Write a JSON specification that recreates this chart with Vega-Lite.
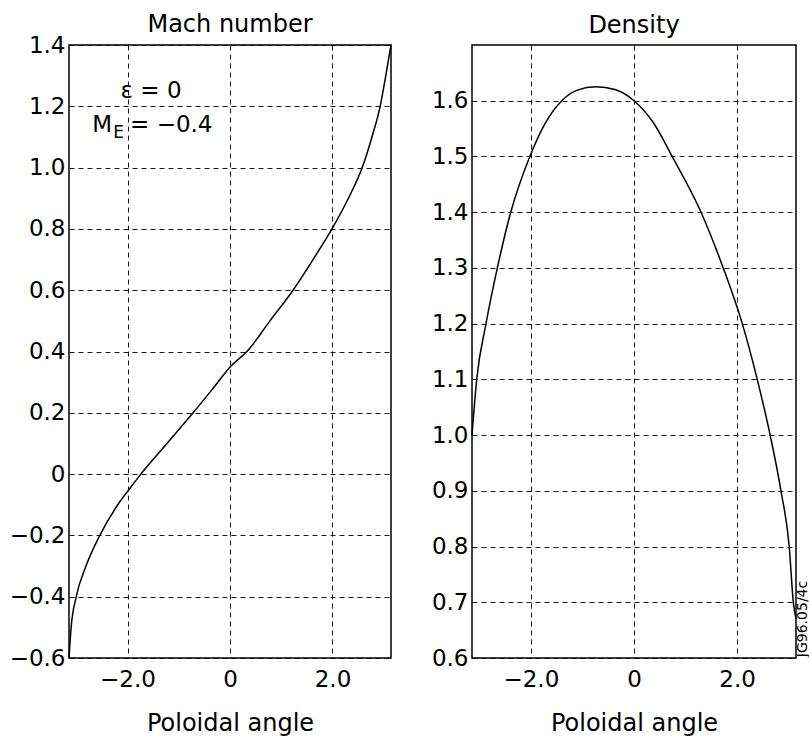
{
  "$schema": "https://vega.github.io/schema/vega-lite/v6.json",
  "padding": {"left": 8, "top": 12, "right": 0, "bottom": 5},
  "background": "white",
  "config": {
    "font": "DejaVu Sans",
    "view": {"stroke": "black", "strokeWidth": 1.5},
    "axis": {
      "grid": true, "gridColor": "black", "gridDash": [5, 4], "gridWidth": 1, "gridOpacity": 0.9,
      "domain": false, "ticks": false,
      "labelFontSize": 23, "labelColor": "black",
      "titleFontSize": 24, "titleFontWeight": "normal", "titleColor": "black"
    },
    "axisX": {"labelPadding": 10, "titlePadding": 20},
    "axisY": {"labelPadding": 4},
    "title": {"fontSize": 24, "fontWeight": "normal", "color": "black"},
    "concat": {"spacing": 35}
  },
  "datasets": {
    "mach": [
      {"angle": -3.1416, "mach": -0.6},
      {"angle": -3.10, "mach": -0.5},
      {"angle": -3.00, "mach": -0.4},
      {"angle": -2.81, "mach": -0.3},
      {"angle": -2.54, "mach": -0.2},
      {"angle": -2.19, "mach": -0.1},
      {"angle": -1.97, "mach": -0.05},
      {"angle": -1.74, "mach": 0.0},
      {"angle": -1.23, "mach": 0.1},
      {"angle": -0.72, "mach": 0.2},
      {"angle": -0.33, "mach": 0.28},
      {"angle": 0.02, "mach": 0.353},
      {"angle": 0.33, "mach": 0.4},
      {"angle": 0.78, "mach": 0.5},
      {"angle": 1.23, "mach": 0.6},
      {"angle": 1.62, "mach": 0.7},
      {"angle": 1.99, "mach": 0.8},
      {"angle": 2.31, "mach": 0.9},
      {"angle": 2.58, "mach": 1.0},
      {"angle": 2.77, "mach": 1.1},
      {"angle": 2.93, "mach": 1.2},
      {"angle": 3.04, "mach": 1.3},
      {"angle": 3.1416, "mach": 1.4}
    ],
    "density": [
      {"angle": -3.1416, "density": 1.0},
      {"angle": -3.05, "density": 1.1},
      {"angle": -2.87, "density": 1.2},
      {"angle": -2.65, "density": 1.3},
      {"angle": -2.39, "density": 1.4},
      {"angle": -2.02, "density": 1.5},
      {"angle": -1.72, "density": 1.56},
      {"angle": -1.40, "density": 1.6},
      {"angle": -1.10, "density": 1.619},
      {"angle": -0.74, "density": 1.625},
      {"angle": -0.37, "density": 1.62},
      {"angle": 0.0, "density": 1.6},
      {"angle": 0.38, "density": 1.56},
      {"angle": 0.74, "density": 1.5},
      {"angle": 1.30, "density": 1.4},
      {"angle": 1.73, "density": 1.3},
      {"angle": 2.10, "density": 1.2},
      {"angle": 2.39, "density": 1.1},
      {"angle": 2.64, "density": 1.0},
      {"angle": 2.85, "density": 0.9},
      {"angle": 3.01, "density": 0.8},
      {"angle": 3.09, "density": 0.7},
      {"angle": 3.1416, "density": 0.67}
    ]
  },
  "hconcat": [
    {
      "title": {"text": "Mach number", "offset": -3},
      "width": 322,
      "height": 613,
      "encoding": {
        "x": {
          "field": "angle", "type": "quantitative",
          "scale": {"domain": [-3.1416, 3.1416], "nice": false, "zero": false},
          "axis": {"values": [-2, 0, 2], "labelExpr": "datum.value == 0 ? '0' : format(datum.value, '.1f')", "title": "Poloidal angle"}
        },
        "y": {
          "field": "mach", "type": "quantitative",
          "scale": {"domain": [-0.6, 1.4], "nice": false, "zero": false},
          "axis": {"values": [-0.6, -0.4, -0.2, 0, 0.2, 0.4, 0.6, 0.8, 1.0, 1.2, 1.4], "labelExpr": "datum.value == 0 ? '0' : format(datum.value, '.1f')", "title": null}
        }
      },
      "layer": [
        {
          "data": {"name": "mach"},
          "mark": {"type": "line", "color": "black", "strokeWidth": 1.5, "interpolate": "monotone"}
        },
        {
          "data": {"values": [{"angle": -1.54, "mach": 1.227, "label": "ε = 0"}]},
          "mark": {"type": "text", "fontSize": 23, "align": "center", "baseline": "alphabetic", "color": "black"},
          "encoding": {"text": {"field": "label"}}
        },
        {
          "data": {"values": [{"angle": -2.69, "mach": 1.116, "label": "M"}, {"angle": -1.95, "mach": 1.116, "label": "= −0.4"}]},
          "mark": {"type": "text", "fontSize": 23, "align": "left", "baseline": "alphabetic", "color": "black"},
          "encoding": {"text": {"field": "label"}}
        },
        {
          "data": {"values": [{"angle": -2.28, "mach": 1.096, "label": "E"}]},
          "mark": {"type": "text", "fontSize": 17, "align": "left", "baseline": "alphabetic", "color": "black"},
          "encoding": {"text": {"field": "label"}}
        }
      ]
    },
    {
      "title": {"text": "Density", "offset": 7},
      "width": 324,
      "height": 613,
      "encoding": {
        "x": {
          "field": "angle", "type": "quantitative",
          "scale": {"domain": [-3.1416, 3.1416], "nice": false, "zero": false},
          "axis": {"values": [-2, 0, 2], "labelExpr": "datum.value == 0 ? '0' : format(datum.value, '.1f')", "title": "Poloidal angle"}
        },
        "y": {
          "field": "density", "type": "quantitative",
          "scale": {"domain": [0.6, 1.7], "nice": false, "zero": false},
          "axis": {"values": [0.6, 0.7, 0.8, 0.9, 1.0, 1.1, 1.2, 1.3, 1.4, 1.5, 1.6], "format": ".1f", "title": null}
        }
      },
      "layer": [
        {
          "data": {"name": "density"},
          "mark": {"type": "line", "color": "black", "strokeWidth": 1.5, "interpolate": "monotone"}
        },
        {
          "data": {"values": [{"angle": 3.27, "density": 0.67, "label": "JG96.05/4c"}]},
          "mark": {"type": "text", "fontSize": 14, "angle": 270, "align": "center", "baseline": "middle", "color": "black"},
          "encoding": {"text": {"field": "label"}}
        }
      ]
    }
  ]
}
